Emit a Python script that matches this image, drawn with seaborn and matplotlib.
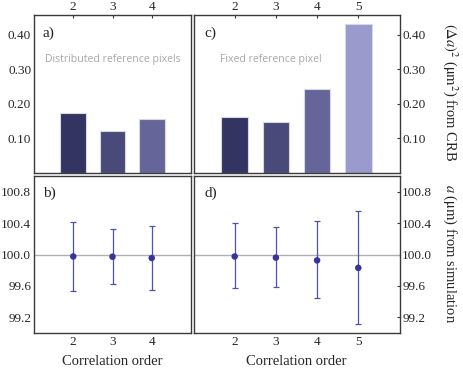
import matplotlib
matplotlib.use("Agg")
import matplotlib.pyplot as plt
import seaborn as sns
import numpy as np
import pandas as pd

# ---- data ----
orders_dist = [2, 3, 4]
crb_dist = [0.173, 0.121, 0.156]
orders_fixed = [2, 3, 4, 5]
crb_fixed = [0.161, 0.148, 0.242, 0.431]

sim_dist_mean = [99.975, 99.972, 99.955]
sim_dist_upper = [100.41, 100.33, 100.36]
sim_dist_lower = [99.54, 99.63, 99.55]

sim_fixed_mean = [99.975, 99.96, 99.925, 99.83]
sim_fixed_upper = [100.40, 100.35, 100.43, 100.56]
sim_fixed_lower = [99.57, 99.59, 99.45, 99.11]

bar_colors = ["#343462", "#4a4a7a", "#65659a", "#9a9acc"]
crb_ticks = [0.10, 0.20, 0.30, 0.40]
crb_ticklabels = ["0.10", "0.20", "0.30", "0.40"]
sim_ticks = [99.2, 99.6, 100.0, 100.4, 100.8]
sim_ticklabels = ["99.2", "99.6", "100.0", "100.4", "100.8"]

sns.set_theme(style="white")
plt.rcParams["font.family"] = ["Liberation Serif", "DejaVu Serif"]
plt.rcParams["mathtext.fontset"] = "stix"

W, H = 463, 374
fig = plt.figure(figsize=(W / 100, H / 100), dpi=100)

def box(l, t, r, b):
    return [l / W, 1 - b / H, (r - l) / W, (b - t) / H]

ax_a = fig.add_axes(box(34, 15.3, 191, 173))
ax_c = fig.add_axes(box(193.5, 15.3, 399.5, 173))
ax_b = fig.add_axes(box(34, 176, 191, 333))
ax_d = fig.add_axes(box(193.5, 176, 399.5, 333))

spine_col = "#3a3a3a"
tick_fs = 9.5

def style(ax):
    for s in ax.spines.values():
        s.set_color(spine_col)
        s.set_linewidth(1.0)
    ax.tick_params(direction="in", length=2.5, width=0.8, color=spine_col,
                   labelsize=tick_fs, pad=2)

# bars
df_a = pd.DataFrame({"order": orders_dist, "crb": crb_dist})
sns.barplot(data=df_a, x="order", y="crb", hue="order", palette=bar_colors[:3],
            native_scale=True, width=0.65, legend=False, ax=ax_a, saturation=1,
            edgecolor="#d8d8e4", linewidth=0.8)
df_c = pd.DataFrame({"order": orders_fixed, "crb": crb_fixed})
sns.barplot(data=df_c, x="order", y="crb", hue="order", palette=bar_colors,
            native_scale=True, width=0.65, legend=False, ax=ax_c, saturation=1,
            edgecolor="#d8d8e4", linewidth=0.8)

for ax, xs, xl in [(ax_a, orders_dist, (1, 5)), (ax_c, orders_fixed, (1, 6))]:
    style(ax)
    ax.set_xlim(*xl)
    ax.set_ylim(0, 0.457)
    ax.set_xticks(xs)
    ax.set_xticklabels([str(v) for v in xs])
    ax.xaxis.tick_top()
    ax.set_yticks(crb_ticks)
    ax.set_yticklabels(crb_ticklabels)
    ax.set_xlabel("")
    ax.set_ylabel("")
ax_c.yaxis.tick_right()

# simulation
for ax, xs, m, up, lo, xl in [
    (ax_b, orders_dist, sim_dist_mean, sim_dist_upper, sim_dist_lower, (1, 5)),
    (ax_d, orders_fixed, sim_fixed_mean, sim_fixed_upper, sim_fixed_lower, (1, 6)),
]:
    style(ax)
    ax.axhline(100.0, color="#b0b0b0", lw=1.0, zorder=1)
    m = np.array(m); up = np.array(up); lo = np.array(lo)
    ax.errorbar(xs, m, yerr=[m - lo, up - m], fmt="none", ecolor="#5050b4",
                elinewidth=0.9, capsize=2, capthick=0.9, zorder=2)
    sns.scatterplot(x=xs, y=m, ax=ax, color="#35359a", s=22, edgecolor="none",
                    zorder=3)
    ax.set_xlim(*xl)
    ax.set_ylim(99.0, 101.0)
    ax.set_xticks(xs)
    ax.set_xticklabels([str(v) for v in xs])
    ax.set_yticks(sim_ticks)
    ax.set_yticklabels(sim_ticklabels)
    ax.set_xlabel("Correlation order", fontsize=10.5, labelpad=5)
    ax.set_ylabel("")
ax_d.yaxis.tick_right()

# panel labels
for ax, lab in [(ax_a, "a)"), (ax_b, "b)"), (ax_c, "c)"), (ax_d, "d)")]:
    ax.text(0.055, 0.93, lab, transform=ax.transAxes, fontsize=11,
            ha="left", va="top")

ax_a.text(0.07, 0.72, "Distributed reference pixels", transform=ax_a.transAxes,
          fontsize=7.6, color="#a8a8a8", family=["Open Sans", "DejaVu Sans"],
          ha="left", va="center")
ax_c.text(0.13, 0.72, "Fixed reference pixel", transform=ax_c.transAxes,
          fontsize=7.6, color="#a8a8a8", family=["Open Sans", "DejaVu Sans"],
          ha="left", va="center")

fig.text(450 / W, 1 - 92 / H, r"$(\Delta a)^2$ ($\mathrm{\mu m}^2$) from CRB",
         rotation=-90, ha="center", va="center", fontsize=10.5)
fig.text(450 / W, 1 - 254 / H, r"$a$ ($\mathrm{\mu m}$) from simulation",
         rotation=-90, ha="center", va="center", fontsize=10.5)

fig.savefig("out.png", dpi=100)
